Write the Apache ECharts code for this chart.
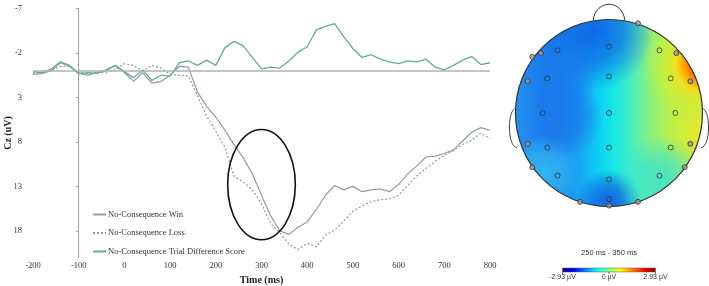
<!DOCTYPE html>
<html>
<head>
<meta charset="utf-8">
<script src="https://cdn.jsdelivr.net/npm/echarts@6/dist/echarts.min.js"></script>
<style>
  html, body { margin: 0; padding: 0; background: #fff; }
  #chart { width: 709px; height: 286px; }
</style>
</head>
<body>
<div id="chart"></div>
<script>
// 时间点 (ms)
const times = [-200, -180, -160, -140, -120, -100, -80, -60, -40, -20,
    0, 20, 40, 60, 80, 100, 120, 140, 160, 180,
    200, 220, 240, 260, 280, 300, 320, 340, 360, 380,
    400, 420, 440, 460, 480, 500, 520, 540, 560, 580,
    600, 620, 640, 660, 680, 700, 720, 740, 760, 780, 800]

// Cz 振幅 (uV)
const winVals = [0.4, 0.3, 0.0, -0.9, -0.5, 0.3, 0.5, 0.2, 0.0, -0.6,
    0.2, 1.2, 0.2, 1.4, 1.2, 0.5, -0.5, -0.4, 2.4, 4.0,
    5.2, 6.7, 8.3, 9.8, 11.6, 14.0, 16.3, 18.0, 18.4, 17.6,
    17.0, 15.6, 14.0, 12.9, 13.4, 13.0, 13.6, 13.4, 13.3, 13.6,
    12.8, 11.6, 10.7, 9.7, 9.6, 9.3, 8.9, 7.9, 6.9, 6.4, 6.7]
const lossVals = [0.2, 0.3, 0.0, -0.5, -0.5, 0.2, 0.3, 0.2, 0.2, -0.1,
    -0.8, -0.6, 0.0, -0.6, -0.3, 0.4, 0.5, 0.6, 2.8, 5.1,
    6.8, 8.6, 11.9, 12.5, 13.4, 15.0, 17.2, 18.2, 19.5, 20.1,
    19.4, 19.8, 18.5, 17.9, 16.9, 15.8, 15.2, 14.7, 14.5, 14.4,
    14.0, 12.9, 11.8, 11.0, 10.2, 9.5, 9.0, 8.3, 7.8, 7.0, 7.6]
const diffVals = [0.1, 0.2, -0.2, -1.0, -0.6, 0.3, 0.2, 0.3, -0.1, -0.6,
    0.1, 0.8, -0.1, 1.1, 0.5, 0.6, -0.9, -1.1, -0.6, -1.2,
    -0.6, -2.6, -3.3, -2.8, -1.5, -0.2, -0.4, -0.3, -1.1, -2.1,
    -2.7, -4.6, -5.0, -5.3, -3.8, -2.5, -1.5, -1.8, -1.3, -1.0,
    -0.8, -1.1, -1.0, -1.3, -0.4, -0.1, -0.6, -1.2, -1.6, -0.7, -0.9]

const seriesNames = ['No-Consequence Win', 'No-Consequence Loss', 'No-Consequence Trial Difference Score']
const yTicks = [-7, -2, 3, 8, 13, 18]

// 椭圆标注 (数据坐标)
const ellipseCenter = [300, 12.8]
const ellipseRadius = [74, 6.2]

// 电极位置 (以头半径归一化)
const elecX = [0.31, -0.82, -0.73, -0.55, 0, 0.54, 0.72, -0.87, -0.66, 0, 0.66, 0.87,
    -0.71, 0, 0.71, -0.87, -0.66, 0, 0.66, 0.87, -0.82, -0.55, 0, 0.54, 0.81,
    -0.31, 0, 0, 0.31]
const elecY = [0.96, 0.60, 0.64, 0.67, 0.71, 0.67, 0.64, 0.34, 0.37, 0.39, 0.37, 0.34,
    0, 0, 0, -0.33, -0.37, -0.37, -0.37, -0.33, -0.58, -0.67, -0.71, -0.67, -0.58,
    -0.95, -0.92, -0.99, -0.95]

const cbarTitle = '250 ms - 350 ms'
const cbarLabels = ['-2.93 µV', '0 µV', '2.93 µV']

const serif = 'Liberation Serif'
const sans = 'Liberation Sans'

function zip(vals) {
    return times.map((t, i) => [t, vals[i]])
}

let option = {
    animation: false,
    grid: [
        {left: 33, right: 219, top: 8.5, bottom: 28.5, outerBoundsMode: 'none'},
        {left: 515.5, top: 19.5, width: 187, height: 187, outerBoundsMode: 'none'}
    ],
    legend: {
        orient: 'vertical',
        left: 87,
        top: 205,
        itemWidth: 13,
        itemHeight: 8,
        itemGap: 9.5,
        data: seriesNames,
        itemStyle: {opacity: 0},
        textStyle: {fontFamily: serif, fontSize: 8.5, color: '#333', padding: [0, 0, 0, -3]}
    },
    xAxis: [
        {
            type: 'value', gridIndex: 0, min: -200, max: 800, interval: 100,
            axisLine: {show: false}, axisTick: {show: false}, splitLine: {show: false},
            axisLabel: {fontFamily: serif, fontSize: 8.5, color: '#333', margin: 4},
            name: 'Time (ms)', nameLocation: 'middle', nameGap: 16,
            nameTextStyle: {fontFamily: serif, fontSize: 10, fontWeight: 'bold', color: '#222'}
        },
        {type: 'value', gridIndex: 1, min: -1, max: 1, show: false}
    ],
    yAxis: [
        {
            type: 'value', gridIndex: 0, inverse: true, min: -7, max: 21, interval: 5,
            axisLine: {show: false}, axisTick: {show: false}, splitLine: {show: false},
            axisLabel: {fontFamily: serif, fontSize: 8.5, color: '#333', margin: 11, customValues: yTicks},
            name: 'Cz (uV)', nameLocation: 'middle', nameGap: 20, nameRotate: 90, nameMoveOverlap: false,
            nameTextStyle: {fontFamily: serif, fontSize: 10, fontWeight: 'bold', color: '#222'}
        },
        {
            // 竖轴线位于 -100 ms
            type: 'value', gridIndex: 0, inverse: true, min: -7, max: 21, interval: 5,
            position: 'left', offset: -45.7,
            axisLine: {show: true, lineStyle: {color: '#a0a0a0', width: 1}},
            axisTick: {show: true, length: 3, lineStyle: {color: '#a0a0a0'}, customValues: yTicks},
            axisLabel: {show: false}, splitLine: {show: false}
        },
        {type: 'value', gridIndex: 1, min: -1, max: 1, show: false}
    ],
    series: [
        {
            name: seriesNames[0], type: 'line', xAxisIndex: 0, yAxisIndex: 0,
            data: zip(winVals), symbol: 'none',
            lineStyle: {color: '#8f9cab', width: 1.2},
            itemStyle: {color: '#8f9cab'},
            markLine: {
                silent: true, symbol: 'none', label: {show: false},
                lineStyle: {color: '#b0b0b0', width: 1.5, type: 'solid'},
                data: [{yAxis: 0}]
            }
        },
        {
            name: seriesNames[1], type: 'line', xAxisIndex: 0, yAxisIndex: 0,
            data: zip(lossVals), symbol: 'none',
            lineStyle: {color: '#8d99a6', width: 1.2, type: [2, 2]},
            itemStyle: {color: '#8d99a6'}
        },
        {
            name: seriesNames[2], type: 'line', xAxisIndex: 0, yAxisIndex: 0,
            data: zip(diffVals), symbol: 'none',
            lineStyle: {color: '#5fae96', width: 1.3},
            itemStyle: {color: '#5fae96'}
        },
        {
            name: 'electrodes', type: 'scatter', xAxisIndex: 1, yAxisIndex: 2,
            symbol: 'circle', symbolSize: 5, z: 5, silent: true,
            data: elecX.map((x, i) => {
                let edge = Math.hypot(x, elecY[i]) > 0.93
                return {
                    value: [x, elecY[i]],
                    itemStyle: {color: edge ? '#9a9a9a' : 'rgba(0,0,0,0)', borderColor: '#333', borderWidth: 1}
                }
            })
        }
    ]
}

let chart = echarts.init(document.querySelector('#chart'))
chart.setOption(option)

// 头皮地形图与标注
function drawGraphics() {
    const head = {xAxisIndex: 1, yAxisIndex: 2}
    let c = chart.convertToPixel(head, [0, 0])
    let R = chart.convertToPixel(head, [1, 0])[0] - c[0]
    let headShape = {cx: c[0], cy: c[1], r: R}
    const radial = (x, y, r, rgb, a) => ({type: 'radial', x: x, y: y, r: r, colorStops: [
        {offset: 0, color: 'rgba(' + rgb + ',' + a + ')'},
        {offset: 0.5, color: 'rgba(' + rgb + ',' + (a * 0.7) + ')'},
        {offset: 1, color: 'rgba(' + rgb + ',0)'}]})
    const fills = [
        {type: 'linear', x: 0, y: 0, x2: 1, y2: 0, colorStops: [
            {offset: 0, color: '#2490f0'}, {offset: 0.2, color: '#1c80ee'},
            {offset: 0.35, color: '#16a8f2'}, {offset: 0.45, color: '#0cd4f2'}, {offset: 0.53, color: '#18e8e4'},
            {offset: 0.62, color: '#48eec0'}, {offset: 0.73, color: '#92f076'}, {offset: 0.86, color: '#c6f040'},
            {offset: 1, color: '#e8e828'}]},
        radial(0.42, 0.06, 0.32, '16,104,230', 1),
        radial(0.22, 0.3, 0.22, '24,120,234', 0.8),
        radial(0.5, 0.98, 0.18, '18,100,228', 1),
        radial(0.25, 0.52, 0.22, '24,118,232', 0.85),
        radial(0.15, 0.82, 0.2, '52,184,242', 0.95),
        radial(0.78, 0.86, 0.24, '40,226,222', 0.8),
        {type: 'radial', x: 1.0, y: 0.24, r: 0.32, colorStops: [
            {offset: 0, color: 'rgba(200,10,0,1)'}, {offset: 0.15, color: 'rgba(255,64,0,1)'},
            {offset: 0.3, color: 'rgba(255,160,0,1)'}, {offset: 0.45, color: 'rgba(240,224,32,1)'},
            {offset: 0.7, color: 'rgba(200,240,60,0.7)'}, {offset: 1, color: 'rgba(180,240,80,0)'}]}
    ]
    let els = fills.map(f => ({type: 'circle', shape: headShape, style: {fill: f}, z: 0, silent: true}))
    els.push({type: 'circle', shape: headShape, style: {fill: null, stroke: '#333', lineWidth: 1.2}, z: 1, silent: true})
    // 鼻子
    els.push({type: 'bezierCurve', z: 1, silent: true,
        shape: {x1: c[0] - 0.17 * R, y1: c[1] - 0.99 * R, cpx1: c[0] - 0.14 * R, cpy1: c[1] - 1.22 * R,
            cpx2: c[0] + 0.14 * R, cpy2: c[1] - 1.22 * R, x2: c[0] + 0.17 * R, y2: c[1] - 0.99 * R},
        style: {stroke: '#333', lineWidth: 1, fill: null}})
    // 耳朵
    for (let s of [-1, 1]) {
        els.push({type: 'bezierCurve', z: 1, silent: true,
            shape: {x1: c[0] + s * 0.995 * R, y1: c[1] - 0.05 * R, cpx1: c[0] + s * 1.09 * R, cpy1: c[1] - 0.04 * R,
                cpx2: c[0] + s * 1.09 * R, cpy2: c[1] + 0.36 * R, x2: c[0] + s * 0.985 * R, y2: c[1] + 0.37 * R},
            style: {stroke: '#444', lineWidth: 1, fill: null}})
    }
    // 色标
    let bx = c[0] - 46.5, by = 268, bw = 93
    els.push({type: 'text', silent: true, style: {text: cbarTitle, x: c[0], y: 253, align: 'center', verticalAlign: 'middle',
        font: '7.5px ' + sans, fill: '#333'}})
    els.push({type: 'rect', silent: true, shape: {x: bx, y: by, width: bw, height: 4},
        style: {fill: {type: 'linear', x: 0, y: 0, x2: 1, y2: 0, colorStops: [
            {offset: 0, color: '#00008f'}, {offset: 0.125, color: '#0000ff'}, {offset: 0.375, color: '#00ffff'},
            {offset: 0.625, color: '#ffff00'}, {offset: 0.875, color: '#ff0000'}, {offset: 1, color: '#800000'}]},
            stroke: '#555', lineWidth: 0.5}})
    cbarLabels.forEach((t, i) => {
        let x = bx + i * bw / 2
        els.push({type: 'line', silent: true, shape: {x1: x, y1: by + 4, x2: x, y2: by + 6}, style: {stroke: '#555', lineWidth: 0.8}})
        els.push({type: 'text', silent: true, style: {text: t, x: x, y: by + 9, align: 'center', verticalAlign: 'middle',
            font: '7px ' + sans, fill: '#333'}})
    })
    // 椭圆
    let ec = chart.convertToPixel({xAxisIndex: 0, yAxisIndex: 0}, ellipseCenter)
    let ee = chart.convertToPixel({xAxisIndex: 0, yAxisIndex: 0},
        [ellipseCenter[0] + ellipseRadius[0], ellipseCenter[1] + ellipseRadius[1]])
    els.push({type: 'ellipse', silent: true, z: 10,
        shape: {cx: ec[0], cy: ec[1], rx: Math.abs(ee[0] - ec[0]), ry: Math.abs(ee[1] - ec[1])},
        style: {fill: null, stroke: '#111', lineWidth: 1.6}})
    chart.setOption({graphic: els})
}
drawGraphics()
</script>
</body>
</html>
